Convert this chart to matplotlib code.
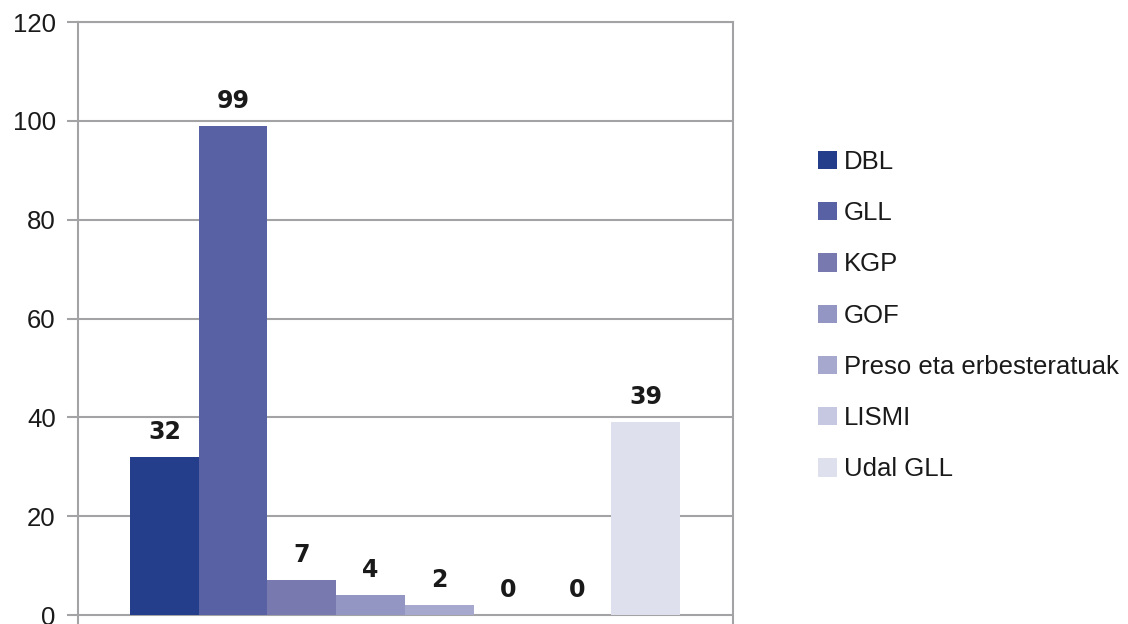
import matplotlib
matplotlib.use("Agg")
import matplotlib.pyplot as plt
from matplotlib import font_manager

# Data
series_names = ["DBL", "GLL", "KGP", "GOF", "Preso eta erbesteratuak", "LISMI", "", "Udal GLL"]
values = [32, 99, 7, 4, 2, 0, 0, 39]
colors = ["#253E8C", "#5761A3", "#7779AF", "#9395C3", "#A6A8CE", "#C6C7E0", "#D3D4E7", "#DFE0EE"]
yticks = [0, 20, 40, 60, 80, 100, 120]

available = {f.name for f in font_manager.fontManager.ttflist}
narrow = "Liberation Sans Narrow" if "Liberation Sans Narrow" in available else "Liberation Sans"

W, H = 1128, 624
fig = plt.figure(figsize=(W / 100, H / 100), dpi=100)
left, right, top, bottom = 78, 733, 22, 624
ax = fig.add_axes([left / W, 1 - bottom / H, (right - left) / W, (bottom - top) / H])

grid_c = "#A3A3A6"
xs = list(range(len(values)))
bars = []
for x, v, c, n in zip(xs, values, colors, series_names):
    b = ax.bar(x, v, width=1.0, color=c, label=n if n else "_nolegend_", zorder=3)
    bars.append(b)
    ax.annotate(str(v), (x, v), xytext=(0, 13), textcoords="offset points",
                ha="center", va="baseline", fontsize=17, fontweight="bold",
                family="DejaVu Sans", color="#1a1a1a", zorder=4)

ax.set_xlim(-1.256, 8.271)
ax.set_ylim(-1.82, 120)
ax.set_yticks(yticks)
ax.set_xticks([])
ax.yaxis.grid(True, color=grid_c, linewidth=1.5, zorder=0)
for s in ["left", "right", "top"]:
    ax.spines[s].set_color(grid_c)
    ax.spines[s].set_linewidth(1.5)
ax.spines["bottom"].set_visible(False)
ax.tick_params(axis="y", length=8, width=1.5, color=grid_c, pad=8,
               labelsize=18.5, labelcolor="#1a1a1a")
for lab in ax.get_yticklabels():
    lab.set_family(["Liberation Sans", "DejaVu Sans"])

handles = [b for b, n in zip(bars, series_names) if n]
leg = fig.legend(handles=handles, loc="upper left",
                 bbox_to_anchor=(818 / W, 1 - 150 / H),
                 frameon=False, borderpad=0, borderaxespad=0,
                 prop={"family": [narrow, "DejaVu Sans"], "size": 18.5},
                 handlelength=0.72, handleheight=0.72, handletextpad=0.3,
                 labelspacing=1.06)
for t in leg.get_texts():
    t.set_color("#1a1a1a")

fig.savefig("out.png", dpi=100)
